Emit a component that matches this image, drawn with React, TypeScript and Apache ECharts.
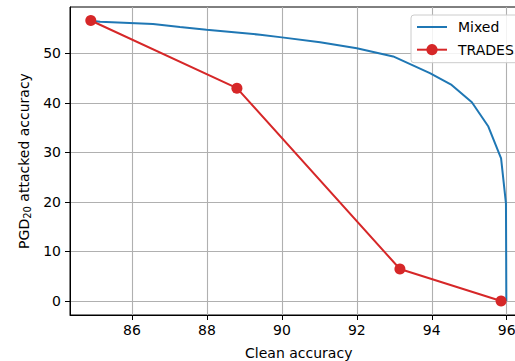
import React, { useEffect, useRef } from "react";
import * as echarts from "echarts";

const mixedX = [84.88, 85.15, 86.56, 87.28, 87.99, 89.42, 90.0, 91.02, 92.0, 92.97, 93.95, 94.53, 95.07, 95.51, 95.85, 95.98, 95.99];
const mixedY = [56.57, 56.36, 55.9, 55.3, 54.75, 53.74, 53.2, 52.2, 51.0, 49.35, 46.0, 43.6, 40.1, 35.2, 28.8, 19.7, 0];
const tradesX = [84.9, 88.8, 93.15, 95.85];
const tradesY = [56.6, 42.95, 6.45, 0.0];
const xTicks = [86, 88, 90, 92, 94, 96];
const yTicks = [0, 10, 20, 30, 40, 50];

const FONT = "DejaVu Sans";

export default function App() {
  const ref = useRef<HTMLDivElement>(null);
  useEffect(() => {
    if (!ref.current) return;
    const chart = echarts.init(ref.current, null, { renderer: "svg" });
    chart.setOption({
      animation: false,
      backgroundColor: "#ffffff",
      textStyle: { fontFamily: FONT },
      grid: {
        left: 70,
        top: 7,
        right: -12.5,
        bottom: 46,
        containLabel: false,
        outerBoundsMode: "none",
        show: true,
        borderColor: "#000",
        borderWidth: 1,
        backgroundColor: "transparent",
      },
      legend: {
        orient: "vertical",
        left: 411,
        top: 15,
        padding: [5, 20, 6, 5],
        itemWidth: 30,
        itemHeight: 14,
        itemGap: 8.7,
        backgroundColor: "rgba(255,255,255,0.85)",
        borderColor: "#cccccc",
        borderWidth: 1,
        borderRadius: 3,
        textStyle: { fontFamily: FONT, fontSize: 14, color: "#000", padding: [0, 0, 0, 6] },
        data: [
          { name: "Mixed", icon: "path://M0 0H30V2H0Z" },
          { name: "TRADES" },
        ],
      },
      xAxis: {
        type: "value",
        min: 84.345,
        max: 96.555,
        name: "Clean accuracy",
        nameLocation: "middle",
        nameGap: 31,
        nameTextStyle: { fontFamily: FONT, fontSize: 14, color: "#000" },
        axisLine: { show: true, onZero: false, lineStyle: { color: "#000", width: 1 } },
        axisTick: { show: true, length: 5, customValues: xTicks, lineStyle: { color: "#000", width: 1 } },
        axisLabel: { customValues: xTicks, margin: 8, fontFamily: FONT, fontSize: 14, color: "#000" },
        splitLine: { show: true, lineStyle: { color: "#b0b0b0", width: 1.1 } },
      },
      yAxis: {
        type: "value",
        min: -2.83,
        max: 59.33,
        name: "PGD{s|20} attacked accuracy",
        nameLocation: "middle",
        nameGap: 35,
        nameTextStyle: {
          fontFamily: FONT,
          fontSize: 14,
          color: "#000",
          rich: { s: { fontFamily: FONT, fontSize: 10, color: "#000", padding: [6, 0, 0, 0] } },
        },
        axisLine: { show: true, onZero: false, lineStyle: { color: "#000", width: 1 } },
        axisTick: { show: true, length: 5, customValues: yTicks, lineStyle: { color: "#000", width: 1 } },
        axisLabel: { customValues: yTicks, margin: 9, fontFamily: FONT, fontSize: 14, color: "#000" },
        splitLine: { show: true, lineStyle: { color: "#b0b0b0", width: 1.1 } },
      },
      series: [
        {
          name: "Mixed",
          type: "line",
          symbol: "none",
          data: mixedX.map((x, i) => [x, mixedY[i]]),
          lineStyle: { color: "#1f77b4", width: 2 },
          itemStyle: { color: "#1f77b4" },
          z: 2,
        },
        {
          name: "TRADES",
          type: "line",
          symbol: "circle",
          symbolSize: 11,
          data: tradesX.map((x, i) => [x, tradesY[i]]),
          lineStyle: { color: "#d62728", width: 2 },
          itemStyle: { color: "#d62728" },
          z: 3,
        },
      ],
    });
    return () => chart.dispose();
  }, []);
  return (
    <div
      ref={ref}
      style={{ position: "fixed", left: 0, top: 0, width: 515, height: 361, overflow: "hidden" }}
    />
  );
}
